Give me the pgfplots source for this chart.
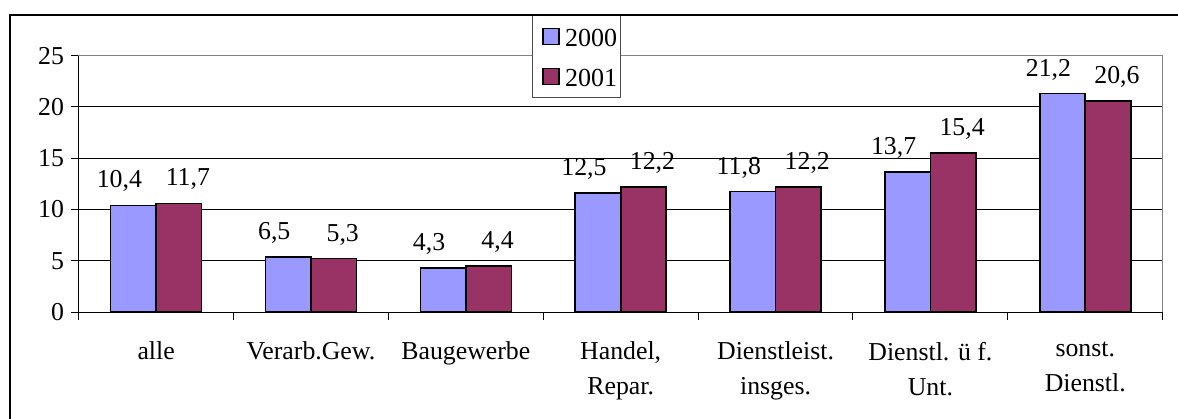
\documentclass[border=0pt]{standalone}
\usepackage{fontspec}
\setmainfont{Liberation Serif}
\usepackage{pgfplots}
\usepackage{pgfplotstable}
\pgfplotsset{compat=1.18}
\definecolor{cA}{HTML}{9999FF}
\definecolor{cB}{HTML}{993366}
\pgfplotstableread{
cat a la b lb
0 10.4 10,4 10.6 11,7
1 5.35 6,5 5.2 5,3
2 4.3 4,3 4.47 4,4
3 11.62 12,5 12.18 12,2
4 11.75 11,8 12.18 12,2
5 13.67 13,7 15.52 15,4
6 21.3 21,2 20.58 20,6
}\data
\newcommand\f{\fontsize{12.9}{17.5}\selectfont}
\begin{document}
\begin{tikzpicture}
\useasboundingbox (-39.35pt,-53pt) rectangle (549.65pt,156pt);
\begin{axis}[
  name=ax,
  at={(0pt,0pt)}, anchor=south west,
  scale only axis, width=542pt, height=128.15pt,
  xmin=-0.5, xmax=6.5, ymin=0, ymax=25,
  ytick={0,5,...,25},
  xtick={-0.5,0.5,...,6.5},
  xticklabels={},
  extra x ticks={0,1,2,3,4,5,6},
  extra x tick labels={alle, Verarb.Gew., Baugewerbe, {Handel,\\Repar.}, {Dienstleist.\\insges.}, {Dienstl. ü f.\\Unt.}, {sonst.\\Dienstl.}},
  extra x tick style={major tick length=0pt, grid=none},
  xticklabel style={align=center, font=\f, yshift=-11.5pt},
  yticklabel style={font=\f},
  /pgf/number format/assume math mode=true,
  xtick pos=bottom, ytick pos=left,
  tick align=outside, major tick length=3.8pt,
  tick style={black, line width=0.5pt},
  ymajorgrids, major grid style={black, line width=0.5pt},
  axis line style={draw=black!50, line width=0.5pt},
  ybar=0pt, bar width=22.75pt,
  point meta=explicit symbolic,
  nodes near coords,
  nodes near coords style={font=\f, anchor=base, yshift=8.7pt},
  legend style={at={(rel axis cs:0.4179,1.1588)}, anchor=north west,
    draw=black!70, line width=0.5pt, inner xsep=1.5pt, inner ysep=4.5pt,
    row sep=8pt, column sep=0pt,
    nodes={inner sep=0pt, text height=11pt, text depth=1pt, font=\fontsize{13}{15}\selectfont}},
  legend cell align=left,
  legend image code/.code={\path (0pt,0pt); \draw[#1, line width=0.6pt] (3.5pt,-4pt) rectangle (11.5pt,4pt); \path (14.2pt,0pt);},
]
\addplot[fill=cA, draw=black, line width=0.8pt,
  every node near coord/.append style={xshift=-7pt}] table[x=cat, y=a, meta=la] {\data};
\addlegendentry{2000}
\addplot[fill=cB, draw=black, line width=0.8pt,
  every node near coord/.append style={xshift=4.5pt}] table[x=cat, y=b, meta=lb] {\data};
\addlegendentry{2001}
\end{axis}
\draw[black, line width=0.5pt] (ax.north west) -- (ax.south west) -- (ax.south east);
\draw[black, line width=1pt] (-34.35pt,-60pt) -- (-34.35pt,148.5pt) -- (600pt,148.5pt);
\end{tikzpicture}
\end{document}
